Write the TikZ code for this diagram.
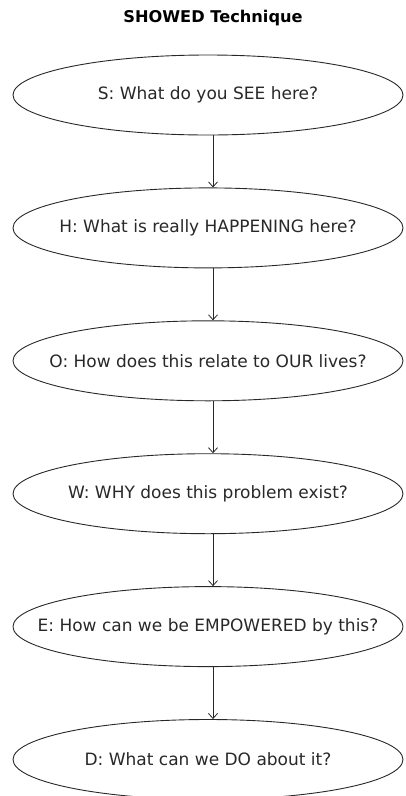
\documentclass[tikz,border=0pt]{standalone}
\usepackage{fontspec}
\setmainfont{DejaVu Sans}
\usetikzlibrary{shapes.geometric,arrows.meta,positioning}
\definecolor{inkgray}{RGB}{40,40,40}

\begin{document}
\begin{tikzpicture}[x=1pt, y=1pt,
  stage/.style={draw=inkgray, ellipse, line width=0.9pt, minimum width=390pt, minimum height=80pt, inner xsep=-100pt, inner ysep=0pt, font=\fontsize{17}{20}\selectfont, text=inkgray},
  arr/.style={-{Straight Barb[length=5pt, width=9pt]}, line width=0.8pt, draw=inkgray}
]
\useasboundingbox (0,0) rectangle (406,-796);
\node[font=\bfseries\fontsize{16.2}{19}\selectfont, text=black] (title) at (213,-18) {SHOWED Technique};

\node[stage] (see) at (208,-95) {S: What do you SEE here?};
\node[stage, below=52pt of see] (happen) {H: What is really HAPPENING here?};
\node[stage, below=52pt of happen] (our) {O: How does this relate to OUR lives?};
\node[stage, below=52pt of our] (why) {W: WHY does this problem exist?};
\node[stage, below=52pt of why] (empower) {E: How can we be EMPOWERED by this?};
\node[stage, below=52pt of empower] (act) {D: What can we DO about it?};

\draw[arr] ([xshift=5pt]see.south) -- ([xshift=5pt]happen.north);
\draw[arr] ([xshift=5pt]happen.south) -- ([xshift=5pt]our.north);
\draw[arr] ([xshift=5pt]our.south) -- ([xshift=5pt]why.north);
\draw[arr] ([xshift=5pt]why.south) -- ([xshift=5pt]empower.north);
\draw[arr] ([xshift=5pt]empower.south) -- ([xshift=5pt]act.north);
\end{tikzpicture}
\end{document}
